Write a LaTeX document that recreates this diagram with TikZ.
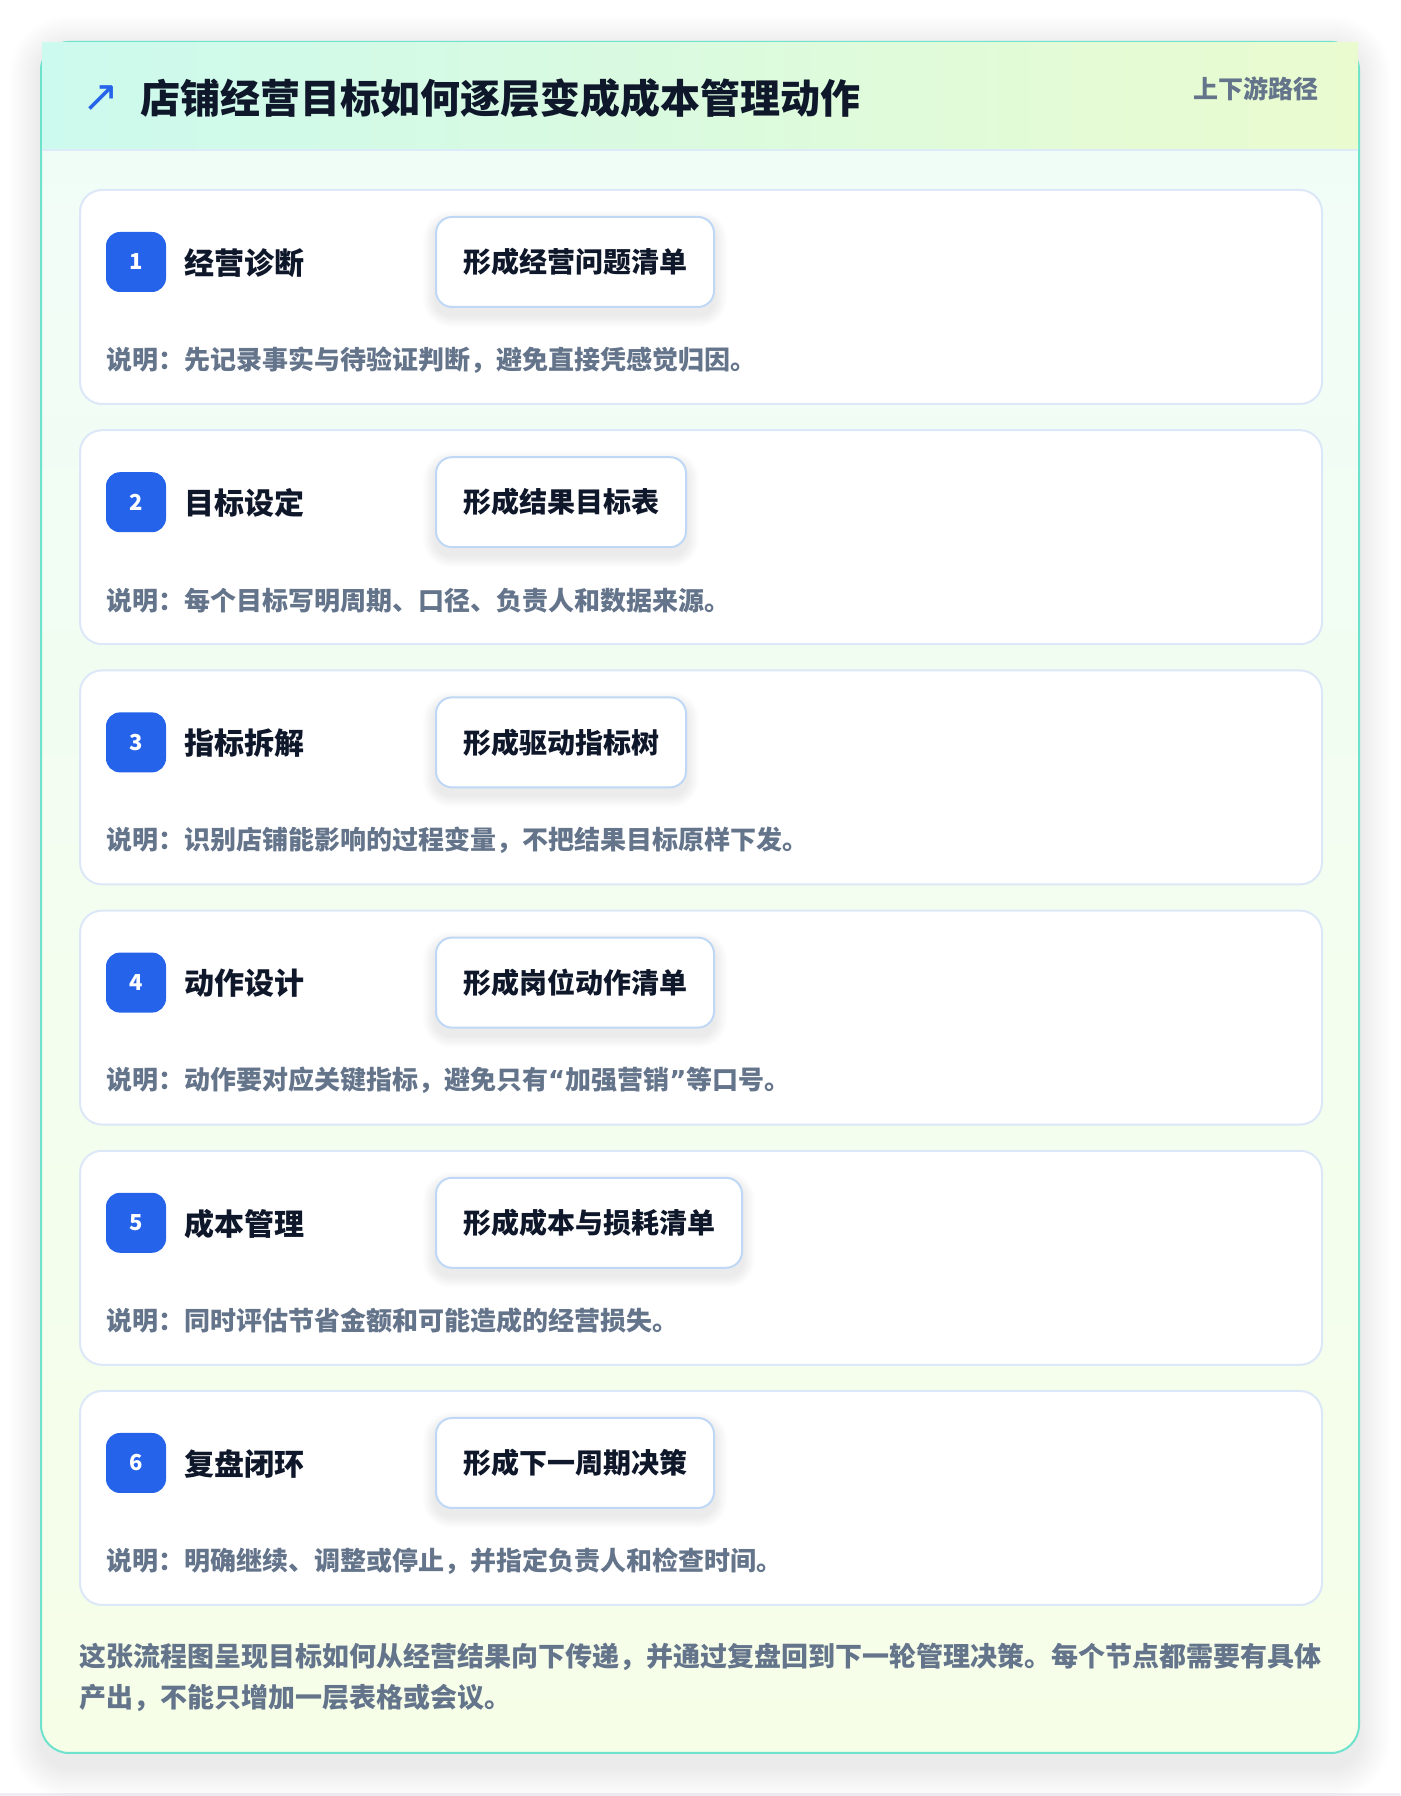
\documentclass[tikz,border=0pt]{standalone}
\usepackage{fontspec}
\setmainfont{Noto Sans CJK SC}
\newfontfamily\arrowfont{DejaVu Sans}
\usetikzlibrary{calc}
\definecolor{outerteal}{HTML}{6EE2CC}
\definecolor{headl}{HTML}{CCFAEE}
\definecolor{headr}{HTML}{EAFBCF}
\definecolor{bodytop}{HTML}{F0FDF8}
\definecolor{bodybot}{HTML}{F6FEE8}
\definecolor{headline}{HTML}{DCEBF7}
\definecolor{cardborder}{HTML}{DCE8F8}
\definecolor{boxborder}{HTML}{BFD8F5}
\definecolor{badgeblue}{HTML}{2563EB}
\definecolor{darktext}{HTML}{0F172A}
\definecolor{graytext}{HTML}{64748B}
\definecolor{pagegray}{HTML}{EFEFF3}
\definecolor{shadowcol}{HTML}{334155}
\pgfdeclarelayer{bg}
\pgfdeclarelayer{cards}
\pgfdeclarelayer{boxshadow}
\pgfsetlayers{bg,cards,boxshadow,main}
\tikzset{
  cardbox/.style={draw=cardborder, line width=2pt, fill=white, rounded corners=22pt,
    minimum width=1242pt, minimum height=214pt, anchor=north west, inner sep=0pt},
  badgebox/.style={fill=badgeblue, rounded corners=14pt, minimum width=60pt, minimum height=60pt,
    inner sep=0pt, text=white, font=\bfseries\fontsize{22}{24}\selectfont},
  labeltext/.style={anchor=west, inner sep=0pt, text=darktext, font=\bfseries\fontsize{30}{34}\selectfont},
  outbox/.style={draw=boxborder, line width=2pt, fill=white, rounded corners=16pt, anchor=west,
    minimum height=90pt, inner xsep=27pt, inner ysep=0pt, text=darktext,
    font=\bfseries\fontsize{28}{32}\selectfont},
  desctext/.style={anchor=west, inner sep=0pt, text=graytext, font=\bfseries\fontsize{26}{30}\selectfont},
  foottext/.style={anchor=west, inner sep=0pt, text=graytext, font=\bfseries\fontsize{27}{32}\selectfont},
}
\newcommand\wq[1]{{\arrowfont\bfseries #1}}
\begin{document}
\begin{tikzpicture}[x=1pt,y=1pt]
\useasboundingbox (0,0) rectangle (1400,1796);
\begin{pgfonlayer}{bg}
\fill[white] (0,0) rectangle (1400,1796);
\fill[pagegray] (0,0) rectangle (1400,3);
% soft shadow of outer card
\foreach \k in {1,...,20}{
  \pgfmathsetmacro\r{28+1.6*\k}
  \fill[shadowcol, opacity=0.005, rounded corners=\r pt]
    (41-1.6*\k, 43-14-1.6*\k) rectangle (1359+1.6*\k, 1754-6+1.6*\k);
}
% outer card
\path[draw=outerteal, line width=2pt, rounded corners=28pt, top color=bodytop, bottom color=bodybot]
  (41,43) rectangle (1359,1754);
% header band
\fill[left color=headl, right color=headr] (42,1646) rectangle (1358,1753);
\draw[headline, line width=2pt] (42,1646) -- (1358,1646);
\end{pgfonlayer}
\node[inner sep=0pt, text=badgeblue, font=\arrowfont\fontsize{44}{48}\selectfont] (arrow) at (101,1697) {↗};
\node[anchor=west, inner sep=0pt, text=darktext, font=\bfseries\fontsize{40}{46}\selectfont] (title) at (140,1698) {店铺经营目标如何逐层变成成本管理动作};
\node[anchor=east, inner sep=0pt, text=graytext, font=\bfseries\fontsize{25}{30}\selectfont] (sub) at (1319,1707) {上下游路径};
% cards
\foreach \i/\lab/\out/\desc in {
  1/经营诊断/形成经营问题清单/说明：先记录事实与待验证判断，避免直接凭感觉归因。,
  2/目标设定/形成结果目标表/说明：每个目标写明周期、口径、负责人和数据来源。,
  3/指标拆解/形成驱动指标树/说明：识别店铺能影响的过程变量，不把结果目标原样下发。,
  4/动作设计/形成岗位动作清单/说明：动作要对应关键指标，避免只有\wq{“}加强营销\wq{”}等口号。,
  5/成本管理/形成成本与损耗清单/说明：同时评估节省金额和可能造成的经营损失。,
  6/复盘闭环/形成下一周期决策/说明：明确继续、调整或停止，并指定负责人和检查时间。}{
  \pgfmathsetmacro\t{1796-189-240.2*(\i-1)}
  \begin{pgfonlayer}{cards}
  \node[cardbox] (card\i) at (79,\t) {};
  \end{pgfonlayer}
  \node[badgebox] (badge\i) at (136,\t-73) {\i};
  \node[labeltext] (lab\i) at (184,\t-74) {\lab};
  \node[outbox] (out\i) at (435,\t-73) {\out};
  \node[desctext] (desc\i) at (106,\t-171) {\desc};
  \begin{pgfonlayer}{boxshadow}
  \foreach \k in {1,...,10}{
    \pgfmathsetmacro\r{16+1.2*\k}
    \fill[shadowcol, opacity=0.008, rounded corners=\r pt]
      ($(out\i.south west)+(-1.2*\k,-7-1.2*\k)$) rectangle ($(out\i.north east)+(1.2*\k,-7+1.2*\k)$);
  }
  \end{pgfonlayer}
}
% footer
\node[foottext] (foot1) at (79,139) {这张流程图呈现目标如何从经营结果向下传递，并通过复盘回到下一轮管理决策。每个节点都需要有具体};
\node[foottext] (foot2) at (79,98) {产出，不能只增加一层表格或会议。};
\end{tikzpicture}
\end{document}
